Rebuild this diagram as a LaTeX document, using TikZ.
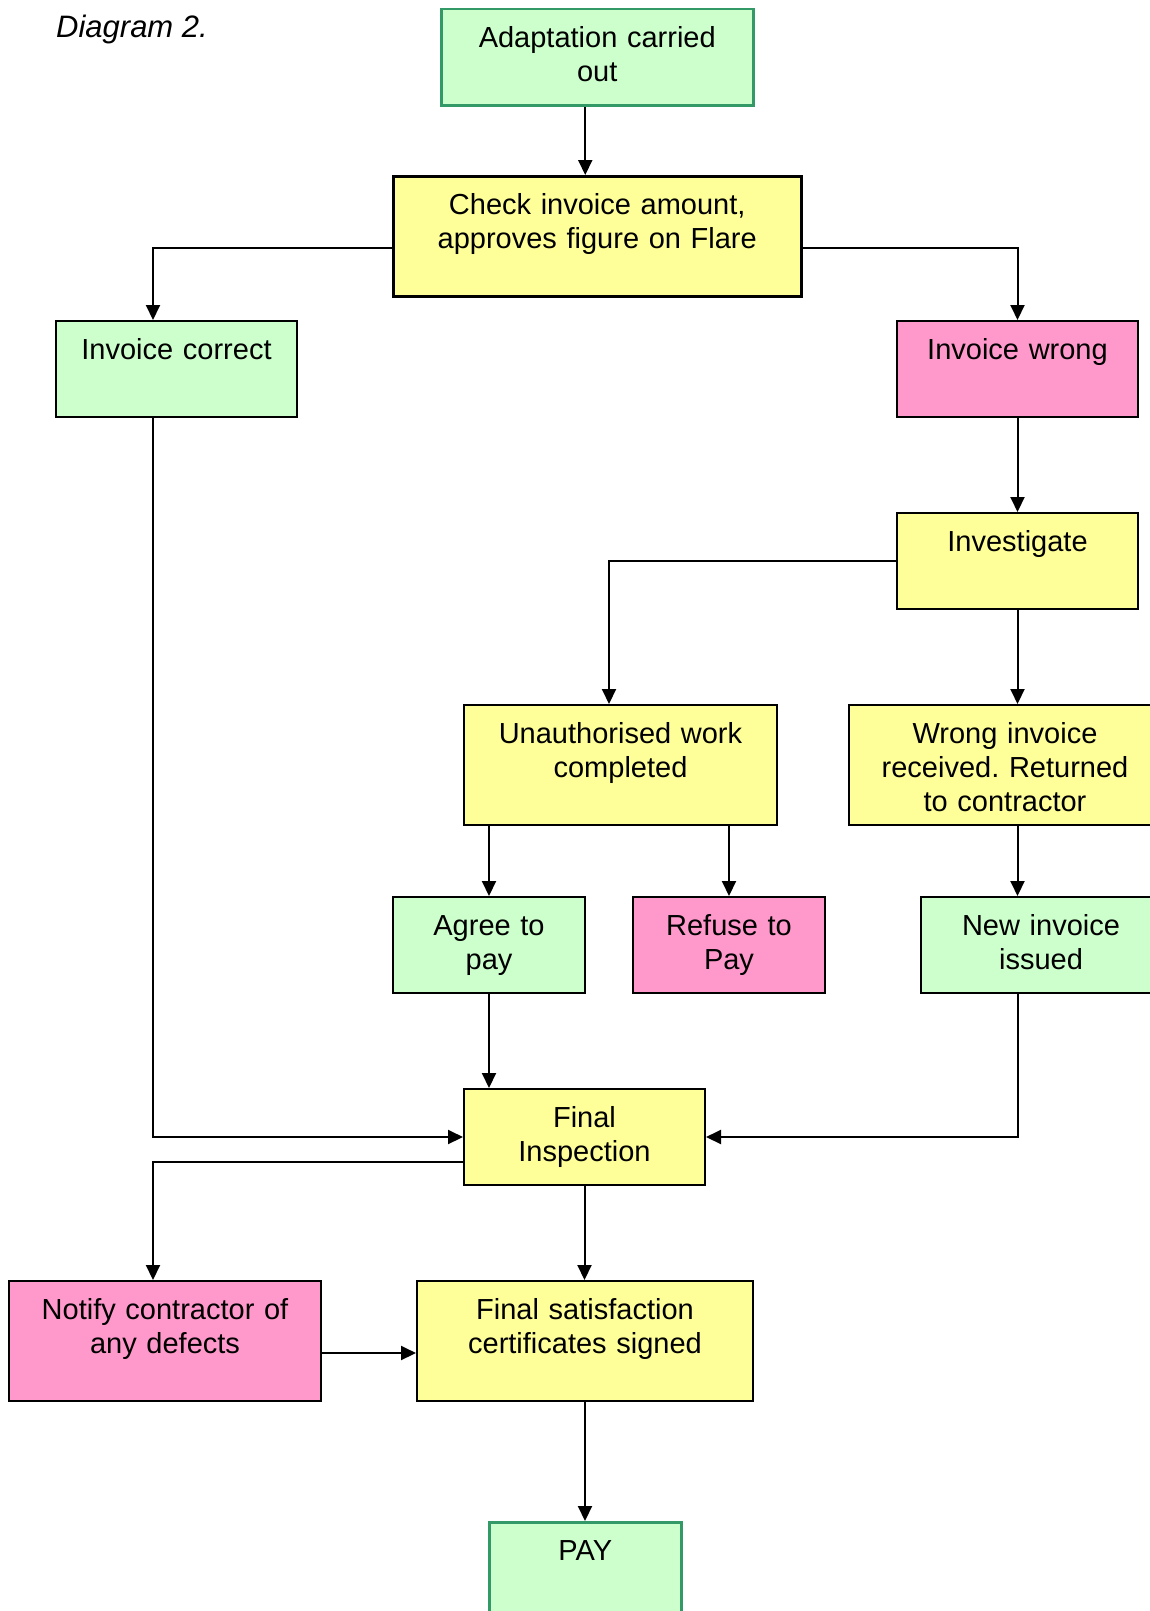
\documentclass[tikz,border=0pt]{standalone}
\usepackage{fontspec}
\setmainfont{Liberation Sans}
\usetikzlibrary{arrows.meta}
\frenchspacing
\pgfdeclarelayer{edgelayer}
\pgfdeclarelayer{nodelayer}
\pgfsetlayers{edgelayer,nodelayer,main}
\definecolor{okgreen}{HTML}{CCFFCC}
\definecolor{taskyellow}{HTML}{FFFF99}
\definecolor{badpink}{HTML}{FF99CC}
\definecolor{rimgreen}{HTML}{339966}
\tikzset{font=\fontsize{29}{34}\selectfont}
\tikzstyle{none}=[inner sep=0pt]
\tikzstyle{box}=[draw=black,line width=2pt,inner sep=0pt,align=center,anchor=north west,text height=38pt,text depth=58pt]
\tikzstyle{tallbox}=[text depth=82pt]
\tikzstyle{greenbox}=[box,fill=okgreen]
\tikzstyle{pinkbox}=[box,fill=badpink]
\tikzstyle{yellowbox}=[box,fill=taskyellow]
\tikzstyle{startbox}=[greenbox,draw=rimgreen,line width=2.5pt]
\tikzstyle{flow}=[line width=2pt,-{Triangle[length=15pt,width=14pt]}]

\begin{document}
\begin{tikzpicture}[x=1pt,y=-1pt]
	\useasboundingbox (0,0) rectangle (1150,1611);
	\begin{pgfonlayer}{nodelayer}
		\node [style=none,anchor=west,font=\fontsize{31}{34}\selectfont\itshape] (title) at (56, 29) {Diagram 2.};
		\node [style=startbox,text width=312pt] (0) at (440, 8) {Adaptation carried\\out};
		\node [style=yellowbox,style=tallbox,text width=408pt,line width=2.5pt] (1) at (392, 175) {Check invoice amount,\\approves figure on Flare};
		\node [style=greenbox,text width=241pt] (2) at (55, 320) {Invoice correct};
		\node [style=pinkbox,text width=241pt] (3) at (896, 320) {Invoice wrong};
		\node [style=yellowbox,text width=241pt] (4) at (896, 512) {Investigate};
		\node [style=yellowbox,style=tallbox,text width=313pt] (5) at (463, 704) {Unauthorised work\\completed};
		\node [style=yellowbox,style=tallbox,text width=312pt] (6) at (848, 704) {Wrong invoice\\received. Returned\\to contractor};
		\node [style=greenbox,text width=192pt] (7) at (392, 896) {Agree to\\pay};
		\node [style=pinkbox,text width=192pt] (8) at (632, 896) {Refuse to\\Pay};
		\node [style=greenbox,text width=240pt] (9) at (920, 896) {New invoice\\issued};
		\node [style=yellowbox,text width=241pt] (10) at (463, 1088) {Final\\Inspection};
		\node [style=pinkbox,style=tallbox,text width=312pt] (11) at (8, 1280) {Notify contractor of\\any defects};
		\node [style=yellowbox,style=tallbox,text width=336pt] (12) at (416, 1280) {Final satisfaction\\certificates signed};
		\node [style=startbox,text width=192pt] (13) at (488, 1521) {PAY};
	\end{pgfonlayer}
	\begin{pgfonlayer}{edgelayer}
		\draw [style=flow] ([xshift=-12pt]0.south) to ([xshift=-12pt]1.north);
		\draw [style=flow] ([yshift=-12pt]1.west) -| ([xshift=-23.5pt]2.north);
		\draw [style=flow] ([yshift=-12pt]1.east) -| (3.north);
		\draw [style=flow] (3.south) to (4.north);
		\draw [style=flow] (4.west) -| ([xshift=-11.5pt]5.north);
		\draw [style=flow] (4.south) to (4.south |- 6.north);
		\draw [style=flow] (5.south -| 7.north) to (7.north);
		\draw [style=flow] (5.south -| 8.north) to (8.north);
		\draw [style=flow] (6.south -| 3.south) to (9.north -| 3.south);
		\draw [style=flow] (7.south) to (7.south |- 10.north);
		\draw [style=flow] ([xshift=-23.5pt]2.south) |- (10.west);
		\draw [style=flow] (9.south -| 3.south) |- (10.east);
		\draw [style=flow] ([yshift=-25pt]10.west) -| ([xshift=-12pt]11.north);
		\draw [style=flow] (10.south) to (10.south |- 12.north);
		\draw [style=flow] ([yshift=-12pt]11.east) to ([yshift=-12pt]11.east -| 12.west);
		\draw [style=flow] (12.south) to (12.south |- 13.north);
	\end{pgfonlayer}
\end{tikzpicture}
\end{document}
